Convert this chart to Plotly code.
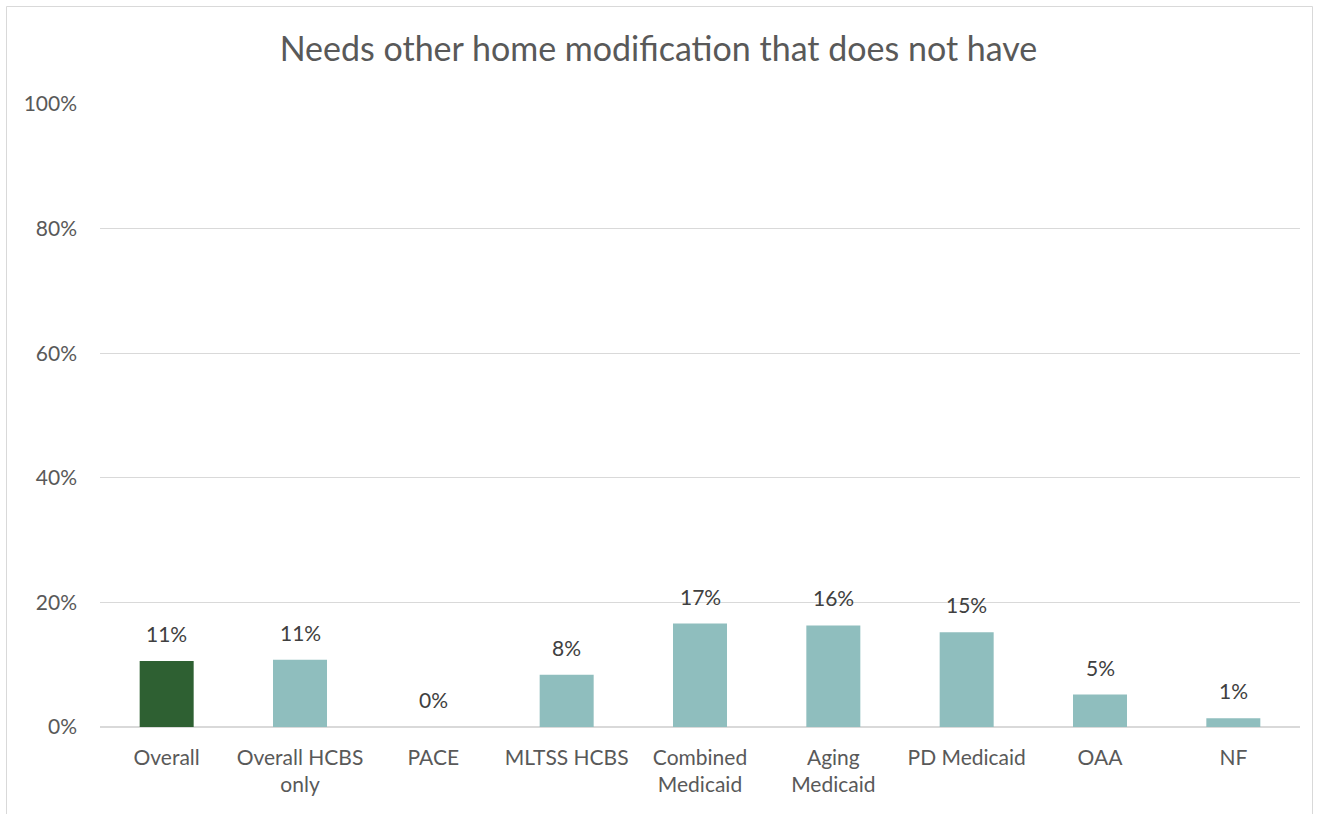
import plotly.graph_objects as go

categories = ["Overall", "Overall HCBS<br>only", "PACE", "MLTSS HCBS", "Combined<br>Medicaid",
              "Aging<br>Medicaid", "PD Medicaid", "OAA", "NF"]
values = [10.6, 10.8, 0.0, 8.4, 16.6, 16.3, 15.2, 5.2, 1.4]
bar_colors = ["#2E6032"] + ["#8FBEBE"] * 8
y_ticks = [0, 20, 40, 60, 80, 100]
y_tick_text = [f"{t}%" for t in y_ticks]

W, H = 1317, 814
L, R, T, B = 100, 17, 104, 87
plot_w = W - L - R
plot_h = H - T - B
FONT = "Lato, Open Sans, sans-serif"

fig = go.Figure(
    go.Bar(
        x=categories,
        y=values,
        marker=dict(color=bar_colors, line=dict(width=0)),
        hoverinfo="skip",
    )
)

# value labels above each bar
for c, v in zip(categories, values):
    fig.add_annotation(
        x=c, y=v, text=f"{v:.0f}%", showarrow=False,
        yanchor="bottom", yshift=13,
        font=dict(family=FONT, size=21, color="#404040"),
    )

# outer chart border
def px_x(p):
    return (p - L) / plot_w

def px_y(p):
    return (H - B - p) / plot_h

fig.add_shape(
    type="rect", xref="paper", yref="paper",
    x0=px_x(6.5), x1=px_x(1312.5), y0=px_y(830), y1=px_y(6.5),
    line=dict(color="#D9D9D9", width=1), fillcolor="rgba(0,0,0,0)", layer="below",
)

fig.update_layout(
    width=W, height=H,
    margin=dict(l=L, r=R, t=T, b=B),
    paper_bgcolor="white", plot_bgcolor="white",
    bargap=0.595,
    showlegend=False,
    title=dict(
        text="Needs other home modification that does not have",
        x=0.5, xanchor="center", y=1 - 49 / H, yanchor="middle",
        font=dict(family=FONT, size=34, color="#595959"),
    ),
    font=dict(family=FONT, color="#595959"),
    xaxis=dict(
        showgrid=False, showline=False, zeroline=False, ticks="",
        tickfont=dict(size=21, color="#595959"),
        ticklabelstandoff=16,
        fixedrange=True,
    ),
    yaxis=dict(
        range=[0, 100], tickvals=y_ticks, ticktext=y_tick_text,
        showgrid=True, gridcolor="#D9D9D9", gridwidth=1,
        zeroline=True, zerolinecolor="#D9D9D9", zerolinewidth=2,
        showline=False, ticks="", ticklabelstandoff=22,
        tickfont=dict(size=21, color="#595959"),
        fixedrange=True,
    ),
)

fig.write_html("out.html")
